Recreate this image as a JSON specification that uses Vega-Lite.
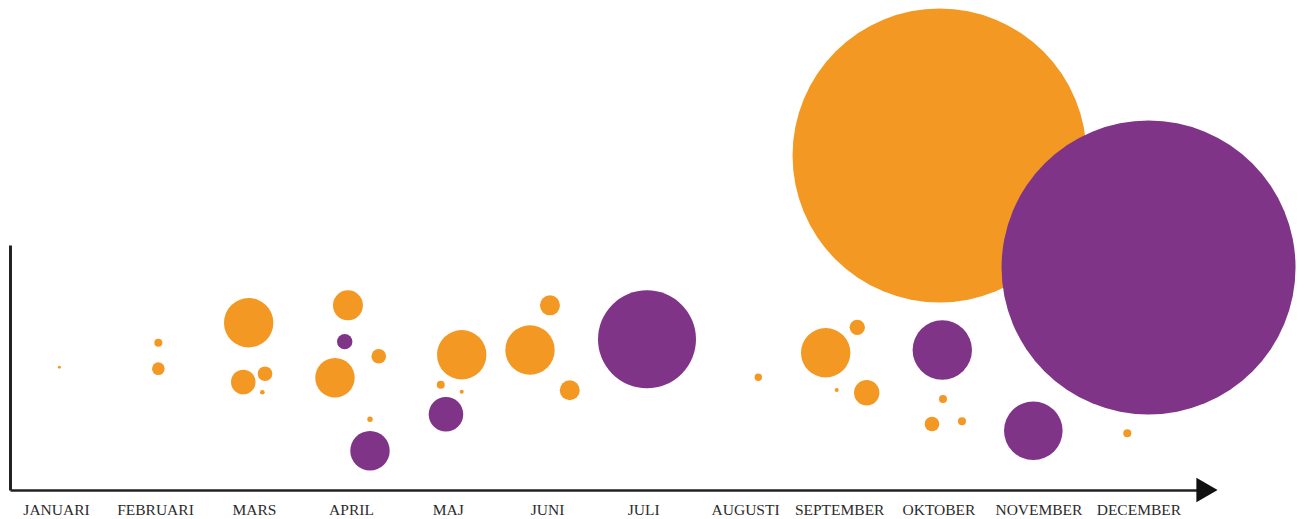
{
  "$schema": "https://vega.github.io/schema/vega-lite/v6.json",
  "width": 1190,
  "height": 245,
  "autosize": {"type": "none"},
  "padding": {"left": 10, "top": 245, "right": 105, "bottom": 29},
  "background": "#ffffff",
  "config": {"view": {"stroke": null}},
  "layer": [
    {
      "data": {
        "values": [
          {"month": 1.034, "level": 25.04, "amount": 1, "serie": "A"},
          {"month": 2.040, "level": 30.06, "amount": 7.4, "serie": "A"},
          {"month": 2.040, "level": 24.76, "amount": 18.4, "serie": "A"},
          {"month": 2.958, "level": 34.14, "amount": 282, "serie": "A"},
          {"month": 2.903, "level": 22.04, "amount": 70, "serie": "A"},
          {"month": 3.124, "level": 23.73, "amount": 24.7, "serie": "A"},
          {"month": 3.097, "level": 19.94, "amount": 2.5, "serie": "A"},
          {"month": 3.967, "level": 37.69, "amount": 104, "serie": "A"},
          {"month": 3.934, "level": 30.27, "amount": 27.4, "serie": "B"},
          {"month": 4.280, "level": 27.29, "amount": 24.7, "serie": "A"},
          {"month": 3.835, "level": 22.92, "amount": 180, "serie": "A"},
          {"month": 4.191, "level": 14.43, "amount": 3.4, "serie": "A"},
          {"month": 4.191, "level": 8.02, "amount": 180, "serie": "B"},
          {"month": 5.123, "level": 27.61, "amount": 282, "serie": "A"},
          {"month": 4.910, "level": 21.49, "amount": 7.4, "serie": "A"},
          {"month": 5.123, "level": 20.06, "amount": 1.9, "serie": "A"},
          {"month": 4.963, "level": 15.45, "amount": 138, "serie": "B"},
          {"month": 5.817, "level": 28.57, "amount": 282, "serie": "A"},
          {"month": 6.020, "level": 37.69, "amount": 46.3, "serie": "A"},
          {"month": 6.221, "level": 20.35, "amount": 46.3, "serie": "A"},
          {"month": 7.006, "level": 30.76, "amount": 1111, "serie": "B"},
          {"month": 8.137, "level": 23.0, "amount": 6.3, "serie": "A"},
          {"month": 8.822, "level": 28.02, "amount": 282, "serie": "A"},
          {"month": 9.143, "level": 33.2, "amount": 27.4, "serie": "A"},
          {"month": 8.934, "level": 20.41, "amount": 1.9, "serie": "A"},
          {"month": 9.239, "level": 19.86, "amount": 74.6, "serie": "A"},
          {"month": 9.979, "level": 68.26, "amount": 10000, "serie": "A"},
          {"month": 10.007, "level": 28.57, "amount": 408, "serie": "B"},
          {"month": 10.014, "level": 18.57, "amount": 7.4, "serie": "A"},
          {"month": 9.902, "level": 13.47, "amount": 24.7, "serie": "A"},
          {"month": 10.207, "level": 14.02, "amount": 7.4, "serie": "A"},
          {"month": 10.932, "level": 12.10, "amount": 397, "serie": "B"},
          {"month": 11.887, "level": 11.57, "amount": 7.4, "serie": "A"},
          {"month": 12.103, "level": 45.41, "amount": 10000, "serie": "B"}
        ]
      },
      "mark": {"type": "point", "shape": "circle", "filled": true, "opacity": 1, "strokeWidth": 0, "clip": false},
      "encoding": {
        "x": {
          "field": "month", "type": "quantitative",
          "scale": {"domain": [0.5325, 12.626], "nice": false, "zero": false},
          "axis": {
            "values": [1.0, 2.006, 3.012, 3.998, 4.982, 5.99, 6.967, 8.003, 8.959, 9.968, 10.984, 12.0],
            "labelExpr": "['JANUARI','FEBRUARI','MARS','APRIL','MAJ','JUNI','JULI','AUGUSTI','SEPTEMBER','OKTOBER','NOVEMBER','DECEMBER'][round(datum.value) - 1]",
            "title": null,
            "grid": false,
            "ticks": false,
            "domainColor": "#222222",
            "domainWidth": 2.5,
            "labelFont": "Liberation Serif",
            "labelFontSize": 15.5,
            "labelColor": "#2b2b2b",
            "labelPadding": 12,
            "labelFlush": false,
            "labelOverlap": false
          }
        },
        "y": {
          "field": "level", "type": "quantitative",
          "scale": {"domain": [0, 50], "nice": false, "zero": false},
          "axis": {
            "title": null, "grid": false, "ticks": false, "labels": false,
            "domainColor": "#222222", "domainWidth": 3
          }
        },
        "size": {
          "field": "amount", "type": "quantitative",
          "scale": {"type": "linear", "domain": [0, 10000], "range": [0, 86436], "zero": true},
          "legend": null
        },
        "color": {
          "field": "serie", "type": "nominal",
          "scale": {"domain": ["A", "B"], "range": ["#F39923", "#7F3488"]},
          "legend": null
        }
      }
    },
    {
      "data": {"values": [{"month": 12.697, "level": 0}]},
      "mark": {"type": "point", "shape": "triangle-right", "filled": true, "opacity": 1, "color": "#111111", "size": 600, "clip": false},
      "encoding": {
        "x": {"field": "month", "type": "quantitative"},
        "y": {"field": "level", "type": "quantitative"}
      }
    }
  ]
}
